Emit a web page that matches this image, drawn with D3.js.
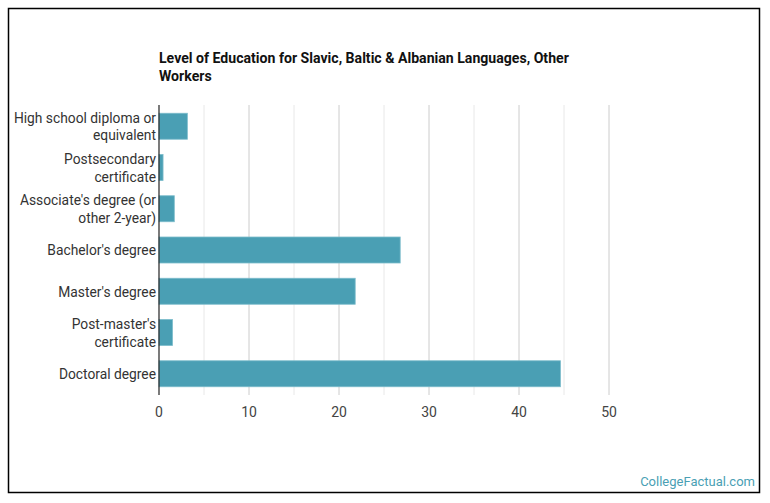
<!DOCTYPE html>
<html>
<head>
<meta charset="utf-8">
<script src="https://cdn.jsdelivr.net/npm/d3@7"></script>
<style>
  body { margin: 0; background: #fff; }
  svg { font-family: Roboto, "Noto Sans", sans-serif; }
</style>
</head>
<body>
<div id="chart"></div>
<script>
var categories = [
    ["High school diploma or", "equivalent"],
    ["Postsecondary", "certificate"],
    ["Associate's degree (or", "other 2-year)"],
    ["Bachelor's degree"],
    ["Master's degree"],
    ["Post-master's", "certificate"],
    ["Doctoral degree"]
];
var values = [3.15, 0.45, 1.7, 26.8, 21.8, 1.5, 44.6];
var majorTicks = [0, 10, 20, 30, 40, 50];
var minorTicks = [5, 15, 25, 35, 45];
var titleLines = ["Level of Education for Slavic, Baltic & Albanian Languages, Other", "Workers"];

var width = 770, height = 503;
var marginLeft = 159, marginTop = 105, plotW = 450, plotH = 290;

var svg = d3.select('#chart')
    .append('svg')
    .attr('width', width)
    .attr('height', height);

// frame
svg.append('rect')
    .attr('x', 8.5).attr('y', 8.5)
    .attr('width', 751).attr('height', 484)
    .attr('fill', 'none')
    .attr('stroke', '#000')
    .attr('stroke-width', 1.5);

var x = d3.scaleLinear().domain([0, 50]).range([0, plotW]);
var y = d3.scaleBand()
    .domain(d3.range(categories.length))
    .range([0, plotH])
    .paddingInner(0.37)
    .paddingOuter(0.2);

var g = svg.append('g').attr('transform', `translate(${marginLeft},${marginTop})`);

// grid
g.selectAll('line.minor')
    .data(minorTicks)
    .enter().append('line')
    .attr('class', 'minor')
    .attr('x1', d => x(d)).attr('x2', d => x(d))
    .attr('y1', 0).attr('y2', plotH)
    .attr('stroke', '#e8e8e8');

g.selectAll('line.major')
    .data(majorTicks.slice(1))
    .enter().append('line')
    .attr('class', 'major')
    .attr('x1', d => x(d)).attr('x2', d => x(d))
    .attr('y1', 0).attr('y2', plotH)
    .attr('stroke', '#cccccc');

// bars
g.selectAll('rect.bar')
    .data(values)
    .enter().append('rect')
    .attr('class', 'bar')
    .attr('x', 0)
    .attr('y', (d, i) => y(i))
    .attr('width', d => x(d))
    .attr('height', y.bandwidth())
    .attr('fill', '#4a9fb4')
    .attr('stroke', '#7cbccb')
    .attr('stroke-width', 0.8);

// y axis line
g.append('line')
    .attr('x1', 0).attr('x2', 0)
    .attr('y1', 0).attr('y2', plotH)
    .attr('stroke', '#222')
    .attr('stroke-width', 1.2);

// category labels
var lineH = 17.5;
g.selectAll('text.cat')
    .data(categories)
    .enter().append('text')
    .attr('class', 'cat')
    .attr('text-anchor', 'end')
    .attr('font-size', 13.8)
    .attr('fill', '#333')
    .each(function(d, i) {
        var cy = y(i) + y.bandwidth() / 2;
        var t = d3.select(this);
        d.forEach((line, k) => {
            t.append('tspan')
                .attr('x', -3)
                .attr('y', cy + 0.5 + (k - (d.length - 1) / 2) * lineH)
                .attr('dy', '0.35em')
                .text(line);
        });
    });

// x tick labels
g.selectAll('text.tick')
    .data(majorTicks)
    .enter().append('text')
    .attr('class', 'tick')
    .attr('x', d => x(d))
    .attr('y', plotH + 22)
    .attr('text-anchor', 'middle')
    .attr('font-size', 14)
    .attr('fill', '#444')
    .text(d => d);

// title
svg.append('text')
    .attr('font-size', 14.1)
    .attr('font-weight', 'bold')
    .attr('fill', '#111')
    .selectAll('tspan')
    .data(titleLines)
    .enter().append('tspan')
    .attr('x', marginLeft)
    .attr('y', (d, i) => 63 + i * 18)
    .text(d => d);

// watermark
svg.append('text')
    .attr('x', 755)
    .attr('y', 486)
    .attr('text-anchor', 'end')
    .attr('font-size', 13)
    .attr('fill', '#4a9fb4')
    .text('CollegeFactual.com');
</script>
</body>
</html>
